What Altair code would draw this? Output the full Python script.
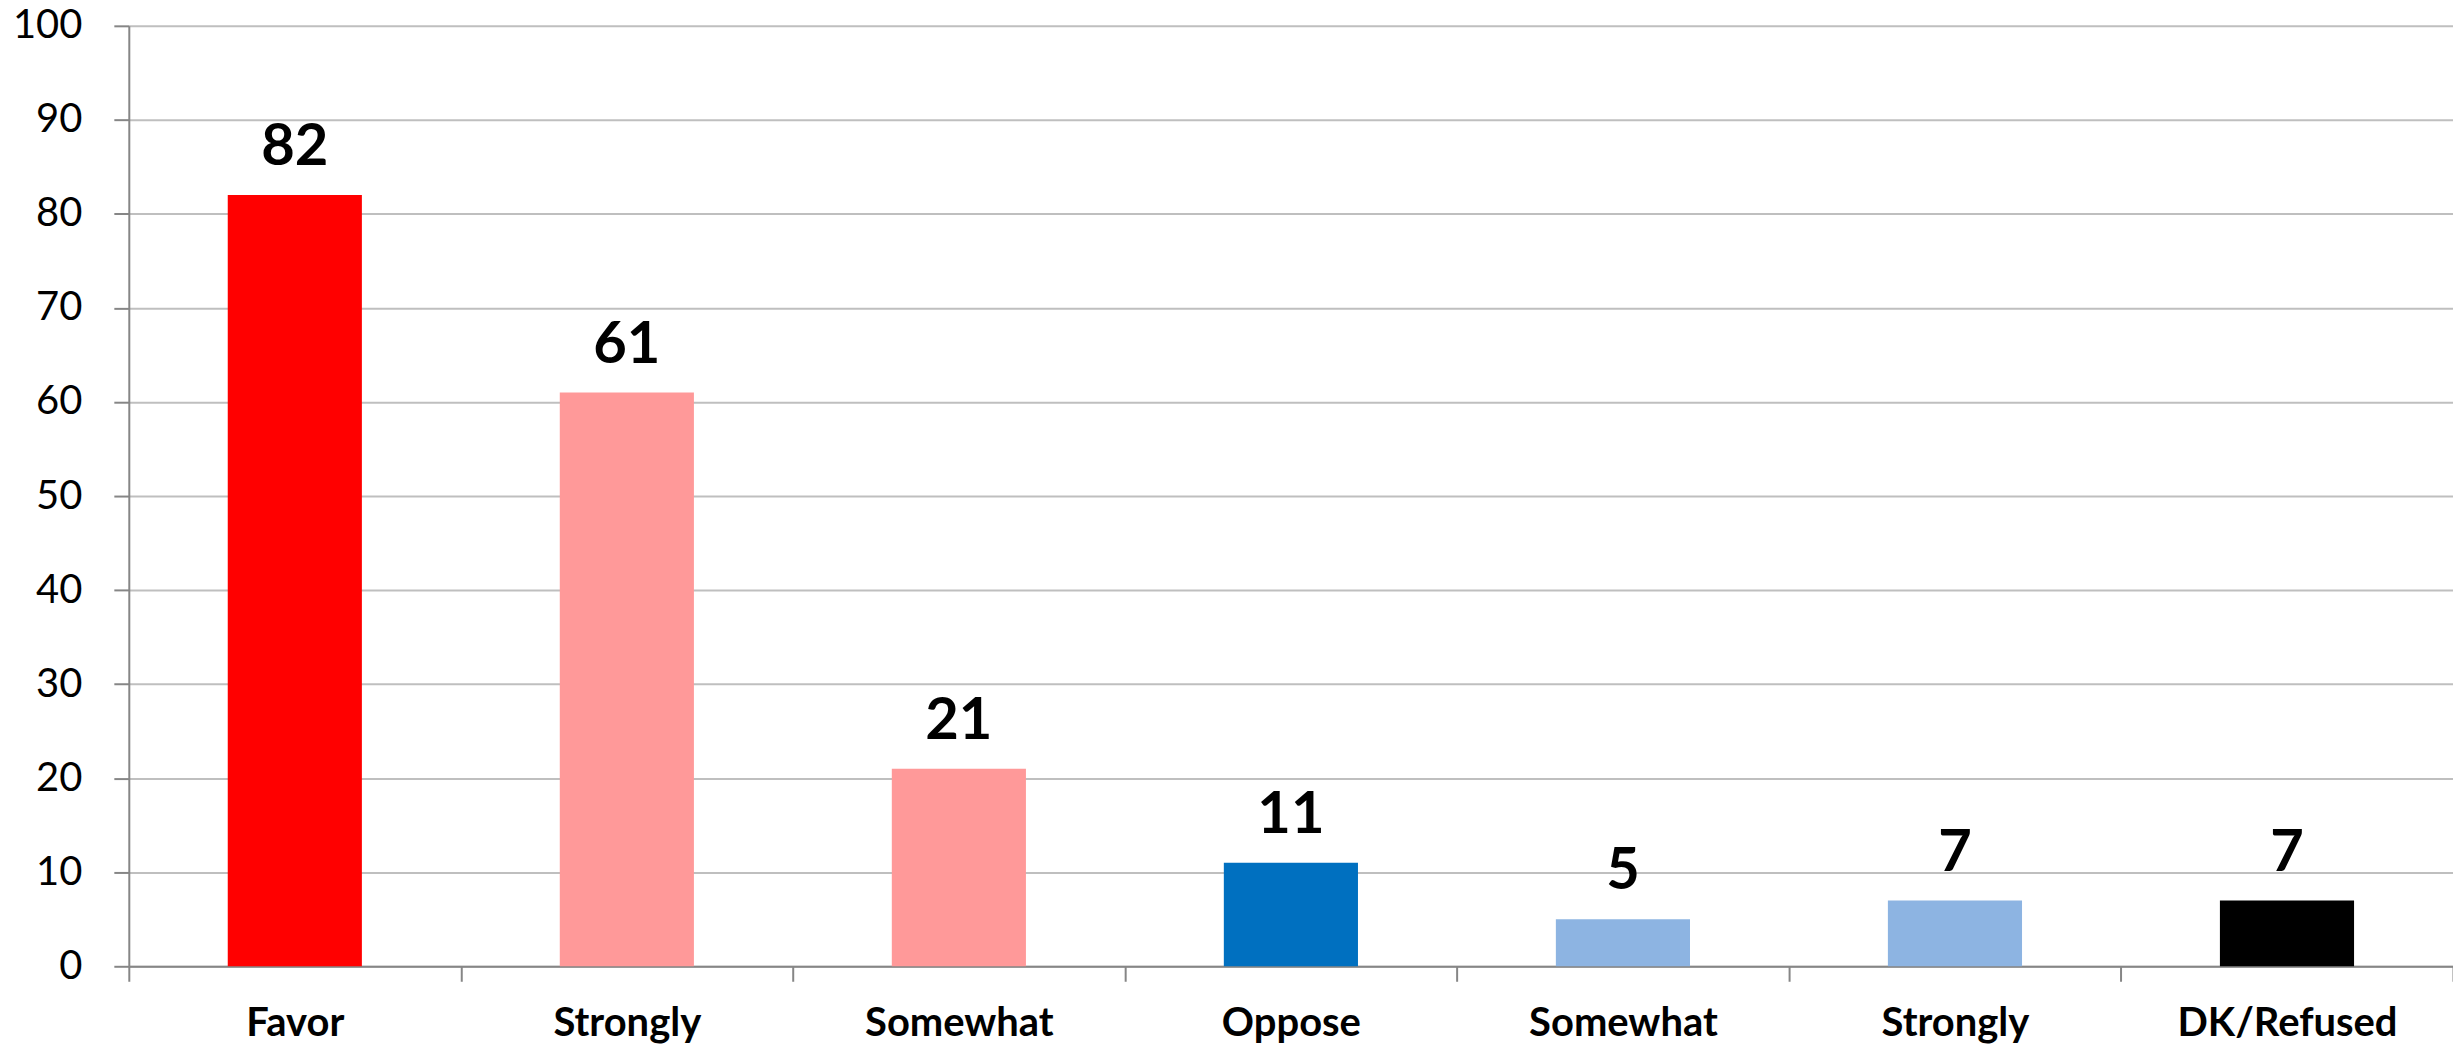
import altair as alt
import pandas as pd

categories = ["Favor", "Strongly", "Somewhat", "Oppose", "Somewhat", "Strongly", "DK/Refused"]
values = [82, 61, 21, 11, 5, 7, 7]
colors = ["#FF0000", "#FF9999", "#FF9999", "#0070C0", "#8DB4E2", "#8DB4E2", "#000000"]
y_ticks = [0, 10, 20, 30, 40, 50, 60, 70, 80, 90, 100]

keys = [str(i) for i in range(len(categories))]
df = pd.DataFrame({"k": keys, "label": categories, "value": values, "color": colors})

label_expr = "[" + ",".join("'" + c + "'" for c in categories) + "][toNumber(datum.value)]"

FONT = "Lato"

x_enc = alt.X(
    "k:N",
    sort=keys,
    scale=alt.Scale(paddingInner=0, paddingOuter=0),
    axis=alt.Axis(
        title=None,
        labelExpr=label_expr,
        labelAngle=0,
        labelFont=FONT,
        labelFontSize=40,
        labelFontWeight="bold",
        labelColor="#000000",
        labelPadding=22,
        labelBaseline="top",
        labelLimit=600,
        tickBand="extent",
        tickSize=15,
        tickColor="#868686",
        tickWidth=2,
        domainColor="#868686",
        domainWidth=2,
        grid=False,
    ),
)

y_enc = alt.Y(
    "value:Q",
    scale=alt.Scale(domain=[0, 100], nice=False),
    axis=alt.Axis(
        title=None,
        values=y_ticks,
        labelFont=FONT,
        labelFontSize=40,
        labelColor="#000000",
        labelPadding=32,
        tickSize=15,
        tickColor="#868686",
        tickWidth=2,
        domainColor="#868686",
        domainWidth=2,
        grid=True,
        gridColor="#BFBFBF",
        gridWidth=2,
    ),
)

bars = alt.Chart(df).mark_bar(width=alt.RelativeBandSize(0.404)).encode(
    x=x_enc,
    y=y_enc,
    color=alt.Color("color:N", scale=None),
)

texts = alt.Chart(df).mark_text(
    font=FONT, fontSize=58, fontWeight="bold", color="#000000",
    baseline="alphabetic", dy=-30,
).encode(
    x=alt.X("k:N", sort=keys),
    y=alt.Y("value:Q"),
    text=alt.Text("value:Q"),
)

chart = alt.layer(bars, texts).properties(
    width=2328,
    height=942,
    padding={"left": 121, "top": 17, "right": 0, "bottom": 82},
    autosize=alt.AutoSizeParams(type="none"),
    background="#FFFFFF",
).configure_view(stroke=None)

chart.save("out.html", embed_options={"renderer": "svg", "actions": False})
